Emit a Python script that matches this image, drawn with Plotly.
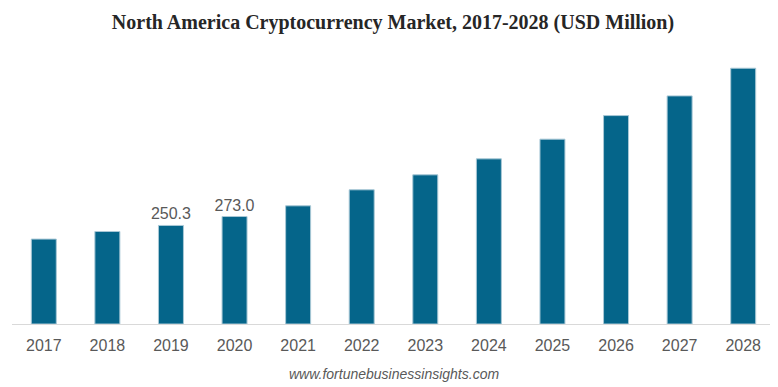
import plotly.graph_objects as go

years = ["2017", "2018", "2019", "2020", "2021", "2022", "2023", "2024", "2025", "2026", "2027", "2028"]
values = [215.7, 235.0, 250.3, 273.0, 300.2, 340.9, 378.9, 419.5, 469.5, 529.4, 579.4, 649.7]
labels = ["", "", "250.3", "273.0", "", "", "", "", "", "", "", ""]

# the page places the figure 8px in from the top-left corner
W, H = 770, 379
T, B = 42, 63

fig = go.Figure()
fig.add_trace(go.Bar(
    x=years, y=values, text=labels, textposition="outside",
    constraintext="none",
    textfont=dict(family="Liberation Sans, Arial, sans-serif", size=16, color="#595959"),
    marker=dict(color="#05658a", line=dict(color="#a9c8d6", width=1)),
    cliponaxis=False, hoverinfo="x+y",
))

plot_h = H - T - B
fig.update_layout(
    width=W, height=H,
    margin=dict(l=4, r=3, t=T, b=B),
    paper_bgcolor="white", plot_bgcolor="white",
    bargap=0.607,
    showlegend=False,
    title=dict(
        text="<b>North America Cryptocurrency Market, 2017-2028 (USD Million)</b>",
        x=0.5, xanchor="center", y=1 - 14 / H, yanchor="middle",
        font=dict(family="Liberation Serif, Times New Roman, serif", size=20, color="#262626"),
    ),
    xaxis=dict(
        showline=True, linecolor="#d9d9d9", linewidth=1,
        ticks="", showgrid=False, ticklabelstandoff=7,
        tickfont=dict(family="Liberation Sans, Arial, sans-serif", size=16, color="#595959"),
    ),
    yaxis=dict(range=[0, 696], visible=False, showgrid=False),
    annotations=[dict(
        text="<i>www.fortunebusinessinsights.com</i>",
        x=0.5, xref="paper", y=(H - B - 366) / plot_h, yref="paper",
        yanchor="middle", showarrow=False,
        font=dict(family="Liberation Sans, Arial, sans-serif", size=14, color="#595959"),
    )],
)

fig.write_html("out.html")
